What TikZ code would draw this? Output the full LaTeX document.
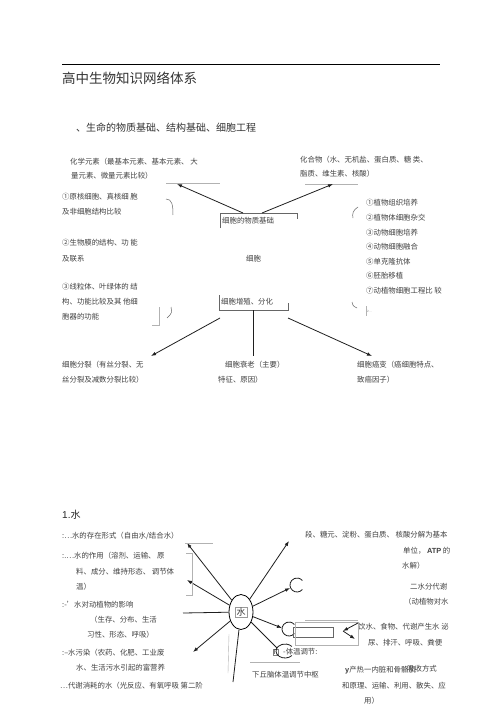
\documentclass[tikz,border=0pt]{standalone}
\usepackage{fontspec}
\setmainfont{Noto Sans CJK SC}
\newfontfamily\lat{Liberation Sans}
\usetikzlibrary{arrows.meta,shapes.geometric}
\begin{document}
\begin{tikzpicture}[x=1pt,y=-1pt,
  txt/.style={anchor=west,inner sep=0pt,font=\fontsize{7.4}{9}\selectfont,text=black!75},
  arr/.style={-{Latex[length=5pt,width=3.6pt]},line width=0.8pt,black!88},
  ln/.style={line width=0.8pt,black!88},
  faint/.style={line width=0.4pt,black!30},
  mid/.style={line width=0.5pt,black!60}]
\useasboundingbox[fill=white] (0,0) rectangle (503,711);

% ---------- header ----------
\draw[line width=0.8pt] (62,64) -- (440,64);
\node[anchor=west,inner sep=0pt,font=\fontsize{13.5}{15}\selectfont,text=black!80] (title) at (62,78) {高中生物知识网络体系};
\node[anchor=west,inner sep=0pt,font=\fontsize{10}{12}\selectfont,text=black!80] (head) at (76,128) {、生命的物质基础、结构基础、细胞工程};

% ---------- top diagram texts ----------
\node[txt] (chemA) at (70,162) {化学元素（最基本元素、基本元素、 大};
\node[txt] (chemB) at (71,176) {量元素、微量元素比较）};
\node[txt] (compA) at (300,160) {化合物（水、无机盐、蛋白质、糖 类、};
\node[txt] (compB) at (300,174) {脂质、维生素、核酸）};

\node[txt] (l1a) at (62,197) {①原核细胞、真核细 胞};
\node[txt] (l1b) at (62,212) {及非细胞结构比较};
\node[txt] (l2a) at (62,243) {②生物膜的结构、功 能};
\node[txt] (l2b) at (62,259) {及联系};
\node[txt] (l3a) at (62,287) {③线粒体、叶绿体的 结};
\node[txt] (l3b) at (62,302) {构、功能比较及其 他细};
\node[txt] (l3c) at (62,317) {胞器的功能};

\node[txt] (r1) at (366,203) {①植物组织培养};
\node[txt] (r2) at (366,218) {②植物体细胞杂交};
\node[txt] (r3) at (366,233) {③动物细胞培养};
\node[txt] (r4) at (366,247) {④动物细胞融合};
\node[txt] (r5) at (366,262) {⑤单克隆抗体};
\node[txt] (r6) at (366,276) {⑥胚胎移植};
\node[txt] (r7) at (366,291) {⑦动植物细胞工程比 较};

\node[txt] (box1) at (222,221) {细胞的物质基础};
\node[txt] (cell) at (246,259) {细胞};
\node[txt] (box2) at (221,302) {细胞增殖、分化};

\node[txt] (b1a) at (62,365) {细胞分裂（有丝分裂、无};
\node[txt] (b1b) at (62,380) {丝分裂及减数分裂比较）};
\node[txt] (b2a) at (225,365) {细胞衰老（主要）};
\node[txt] (b2b) at (218,380) {特征、原因）};
\node[txt] (b3a) at (357,365) {细胞癌变（癌细胞特点、};
\node[txt] (b3b) at (357,380) {致癌因子）};

% ---------- top diagram lines ----------
\draw[faint] (166,183) -- (220,183);
\draw[faint] (305,184) -- (358,184);
\draw[mid] (220,228) -- (220,213) -- (297,213) -- (297,219);
\draw[mid] (219,295) -- (219,310) -- (288,310) -- (288,303);

\coordinate (p1) at (243,213); \coordinate (q1) at (177,184);
\coordinate (p2) at (262,213); \coordinate (q2) at (333,184);
\coordinate (p3) at (220,318); \coordinate (q3) at (151,356);
\coordinate (p4) at (288,318); \coordinate (q4) at (372,356);
\coordinate (p5) at (253,310); \coordinate (q5) at (253,356);
\draw[arr] (p1) -- (q1);
\draw[arr] (p2) -- (q2);
\draw[arr] (p3) -- (q3);
\draw[arr] (p4) -- (q4);
\draw[ln] (p5) -- (q5);

% small brackets
\draw[mid] (166,199) .. controls (172,199) and (173,205) .. (173,215);
\draw[mid] (358,207) .. controls (353,210) and (352,214) .. (353,218);
\draw[mid] (352,302) .. controls (353,306) .. (357,308);
\draw[mid] (171,307) .. controls (172,313) .. (167,318);
\draw[faint] (159,307) -- (159,325) -- (152,325);
\draw[faint] (366,306) -- (366,316);
\node[anchor=west,inner sep=0pt,font=\fontsize{3}{3}\selectfont,text=black!50] (tiny) at (367,311) {2…};

% ---------- water section ----------
\node[anchor=west,inner sep=0pt,font=\fontsize{10}{12}\selectfont,text=black!85] (one) at (62,515) {{\lat 1.}水};

\node[txt] (wl1) at (62,536) {:…水的存在形式（自由水/结合水）};
\node[txt] (wl2) at (62,556) {:.…水的作用（溶剂、运输、 原};
\node[txt] (wl3) at (76,572) {料、成分、维持形态、 调节体};
\node[txt] (wl4) at (76,587) {温）};
\node[txt] (wl5) at (62,605) {:-'水对动植物的影响};
\node[txt] (wl6) at (90,620) {（生存、分布、生活};
\node[txt] (wl7) at (87,635) {习性、形态、呼吸）};
\node[txt] (wl8) at (62,653) {:--水污染（农药、化肥、工业废};
\node[txt] (wl9) at (76,668) {水、生活污水引起的富营养};
\node[txt] (wl10) at (60,686) {…代谢消耗的水（光反应、有氧呼吸 第二阶};

\node[txt] (wr1) at (305,535) {段、糖元、淀粉、蛋白质、 核酸分解为基本};
\node[txt] (wr2) at (403,551) {单位， {\lat\bfseries ATP} 的};
\node[txt] (wr3) at (402,566) {水解）};
\node[txt] (wr4) at (410,587) {二水分代谢};
\node[txt] (wr5) at (404,602) {（动植物对水};
\node[txt] (wr6) at (358,627) {饮水、食物、代谢产生水 泌};
\node[txt] (wr7) at (368,643) {尿、排汗、呼吸、粪便};
\node[txt] (wr8) at (345,670) {{\lat\bfseries y}产热一内脏和骨骼肌};
\node[txt] (wr9) at (407,669) {吸收方式};
\node[txt] (wr10) at (342,686) {和原理、运输、利用、散失、应};
\node[txt] (wr11) at (364,701) {用）};

\node[anchor=west,inner sep=0.6pt,draw=black!50,line width=0.3pt,font=\fontsize{6.5}{7}\selectfont,text=black!80] (gam) at (273,652) {Γ};
\node[txt] (wt1) at (283,652) {-体温调节:};
\node[txt] (wt2) at (252,675) {下丘脑体温调节中枢};

% water ellipse
\node[draw,ellipse,line width=0.8pt,minimum width=24pt,minimum height=35pt,inner sep=0pt] (w) at (241,612) {};
\node[draw=black!40,line width=0.3pt,inner sep=1.2pt,font=\fontsize{9}{10}\selectfont,text=black!80] (wlab) at (241,612) {水};

\coordinate (a1) at (187,543);
\coordinate (a2) at (187,580);
\coordinate (a3) at (183,613);
\coordinate (a4) at (193,652);
\coordinate (a5) at (233,682);
\coordinate (a6) at (289,541);
\coordinate (a7) at (290,588);
\coordinate (a8) at (282,628);
\coordinate (a9) at (277,648);
\draw[arr] (w) -- (a1);
\draw[arr] (w) -- (a2);
\draw[ln] (w) -- (a3);
\draw[arr] (w) -- (a4);
\draw[ln] (w) -- (a5);
\draw[arr] (w) -- (a6);
\draw[arr] (w) -- (a7);
\draw[arr] (w) -- (a8);
\draw[ln] (w) -- (a9);
\draw[faint] (229,634) -- (228,673);

% brackets on left
\draw[faint] (185,543) -- (213,543);
\draw[faint] (186,553) -- (192,553) -- (192,595) -- (186,595);

% C shapes
\draw[ln] (297,585) ++(40:7) arc[start angle=40,end angle=320,radius=7];
\draw[ln] (289,629) ++(40:7) arc[start angle=40,end angle=320,radius=7];
\draw[ln] (285,651) ++(40:9 and 7) arc[start angle=40,end angle=320,x radius=9,y radius=7];

% rectangles
\draw[mid] (293,627) rectangle (333,637);
\draw[faint] (295,622) rectangle (358,645);
\draw[faint] (305,620) -- (358,620);

% double arrow "<"
\coordinate (v0) at (358,623);
\coordinate (v1) at (343,631);
\coordinate (v2) at (355,639);
\draw[arr] (v0) -- (v1);
\draw[arr] (v1) -- (v2);

% line over hypothalamus
\draw[faint] (250,662) -- (300,662);

\end{tikzpicture}
\end{document}
